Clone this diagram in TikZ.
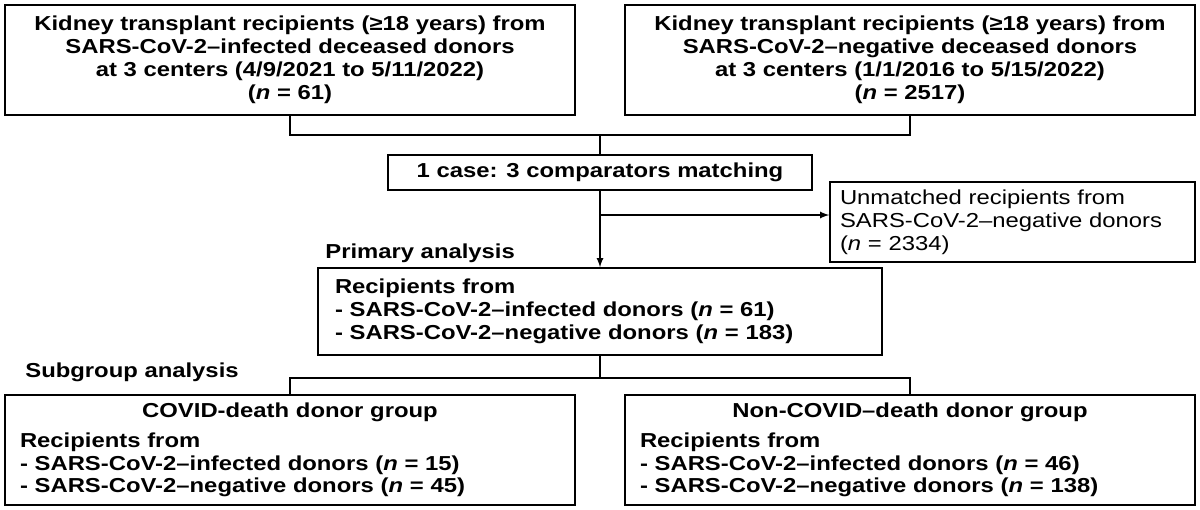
\documentclass[tikz,border=0pt]{standalone}
\usepackage{fontspec}
\setmainfont{Liberation Sans}[FakeStretch=1.18]
\usetikzlibrary{positioning}
\tikzset{
  box/.style={draw,thick,rectangle,inner sep=4pt,font=\fontsize{11.5}{13}\selectfont\bfseries},
  lbl/.style={font=\fontsize{11.5}{13}\selectfont\bfseries,anchor=west,inner sep=0pt},
  conn/.style={thick},
  arr/.style={thick,-latex}
}
\begin{document}
\begin{tikzpicture}[x=0.02cm,y=-0.02cm]
  \useasboundingbox (0,0) rectangle (1200,510);
  \node [box,minimum width=570*0.02cm,minimum height=110*0.02cm,align=center] (infd) at (290,60)
    {Kidney transplant recipients (≥18 years) from\\SARS-CoV-2–infected deceased donors\\at 3 centers (4/9/2021 to 5/11/2022)\\(\textit{n} = 61)};
  \node [box,minimum width=570*0.02cm,minimum height=110*0.02cm,align=center] (negd) at (910,60)
    {Kidney transplant recipients (≥18 years) from\\SARS-CoV-2–negative deceased donors\\at 3 centers (1/1/2016 to 5/15/2022)\\(\textit{n} = 2517)};
  \node [box,minimum width=424*0.02cm,minimum height=35*0.02cm] (match) at (600,172.5)
    {1 case: 3 comparators matching};
  \node [box,font=\fontsize{11.5}{13}\selectfont,minimum width=365*0.02cm,minimum height=80*0.02cm,align=left,text width=345*0.02cm] (unm) at (1012.5,222)
    {Unmatched recipients from\\SARS-CoV-2–negative donors\\(\textit{n} = 2334)};
  \node [box,minimum width=564*0.02cm,minimum height=87*0.02cm,align=left,text width=530*0.02cm] (prim) at (600,311.5)
    {Recipients from\\- SARS-CoV-2–infected donors (\textit{n} = 61)\\- SARS-CoV-2–negative donors (\textit{n} = 183)};
  \node [lbl] (plbl) at (325,253) {Primary analysis};
  \node [lbl] (slbl) at (25,372) {Subgroup analysis};
  \node [box,minimum width=570*0.02cm,minimum height=110*0.02cm,align=left,text width=540*0.02cm] (covd) at (290,450)
    {\hfill COVID-death donor group\hfill\null\\[4pt]
     Recipients from\\- SARS-CoV-2–infected donors (\textit{n} = 15)\\- SARS-CoV-2–negative donors (\textit{n} = 45)};
  \node [box,minimum width=570*0.02cm,minimum height=110*0.02cm,align=left,text width=540*0.02cm] (ncovd) at (910,450)
    {\hfill Non-COVID–death donor group\hfill\null\\[4pt]
     Recipients from\\- SARS-CoV-2–infected donors (\textit{n} = 46)\\- SARS-CoV-2–negative donors (\textit{n} = 138)};
  \coordinate (join) at (600,135);
  \coordinate (split) at (600,215);
  \coordinate (fork) at (600,378);
  \draw [conn] (infd.south) |- (join) -| (negd.south);
  \draw [conn] (join) -- (match.north);
  \draw [arr] (match.south) -- (prim.north);
  \draw [arr] (split) -- (unm.west |- split);
  \draw [conn] (prim.south) -- (fork);
  \draw [conn] (covd.north) |- (fork) -| (ncovd.north);
\end{tikzpicture}
\end{document}
